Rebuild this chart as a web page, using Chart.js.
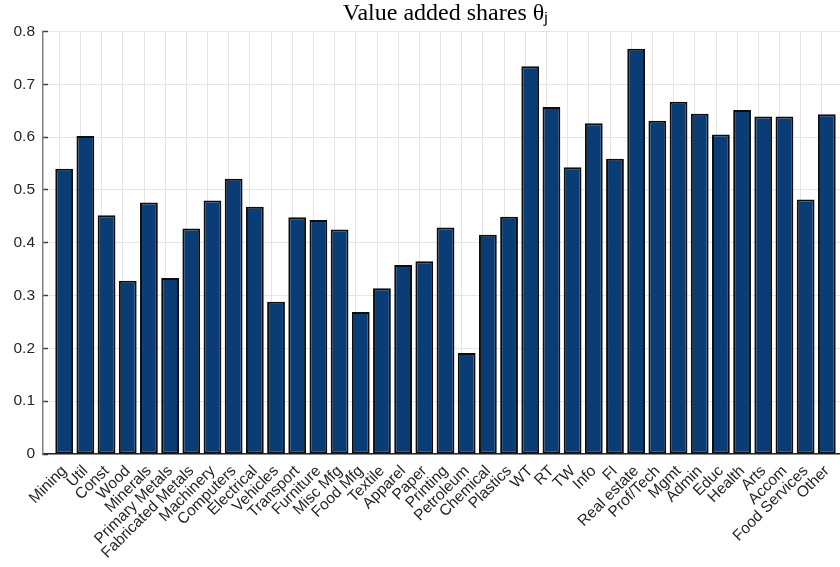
<!DOCTYPE html>
<html>
<head>
<meta charset="utf-8">
<script src="https://cdn.jsdelivr.net/npm/chart.js@4/dist/chart.umd.min.js"></script>
<style>
  html, body { margin: 0; padding: 0; background: #fff; overflow: hidden; }
  #wrap { width: 848px; height: 567px; }
</style>
</head>
<body>
<div id="wrap"><canvas id="c" width="848" height="567"></canvas></div>
<script>
const categories = ['Mining','Util','Const','Wood','Minerals','Primary Metals','Fabricated Metals','Machinery','Computers','Electrical','Vehicles','Transport','Furniture','Misc Mfg','Food Mfg','Textile','Apparel','Paper','Printing','Petroleum','Chemical','Plastics','WT','RT','TW','Info','FI','Real estate','Prof/Tech','Mgmt','Admin','Educ','Health','Arts','Accom','Food Services','Other'];
const valueAddedShares = [0.540,0.602,0.452,0.328,0.476,0.333,0.427,0.480,0.521,0.468,0.288,0.448,0.443,0.425,0.269,0.314,0.358,0.365,0.429,0.191,0.415,0.449,0.734,0.657,0.543,0.626,0.559,0.767,0.631,0.667,0.644,0.605,0.651,0.639,0.639,0.482,0.643];
const yTicks = [0, 0.1, 0.2, 0.3, 0.4, 0.5, 0.6, 0.7, 0.8];
const TICK_SHIFT = 0.23; // grid positions sit slightly left of bar centres in the original

const points = valueAddedShares.map((v, i) => ({ x: i + 1, y: v }));

new Chart(document.getElementById('c'), {
  type: 'bar',
  data: {
    datasets: [{
      data: points,
      backgroundColor: '#0a3c76',
      borderColor: '#0d0d0d',
      borderWidth: 2,
      borderSkipped: false,
      barPercentage: 0.84,
      categoryPercentage: 1.0
    }]
  },
  options: {
    responsive: false,
    animation: false,
    devicePixelRatio: 1,
    layout: { padding: { left: 0, right: 0, top: 0, bottom: 0 } },
    plugins: {
      legend: { display: false },
      tooltip: { enabled: false },
      title: {
        display: true,
        text: 'Value added shares θⱼ',
        fullSize: false,
        color: '#000',
        font: { family: 'Liberation Serif', size: 24, weight: 'normal', lineHeight: 1.1 },
        padding: { top: 1, bottom: 4 }
      }
    },
    scales: {
      x: {
        type: 'linear',
        offset: false,
        min: 0,
        max: categories.length + 1,
        afterBuildTicks: (scale) => {
          scale.ticks = categories.map((c, i) => ({ value: i + 1 - TICK_SHIFT }));
        },
        afterFit: (scale) => { scale.height = 113; },
        grid: { color: '#e5e5e5', lineWidth: 1, drawTicks: false, offset: false },
        border: { display: true, color: '#262626', width: 1.5 },
        ticks: {
          autoSkip: false,
          maxRotation: 45,
          minRotation: 45,
          padding: 8,
          labelOffset: 5,
          color: '#262626',
          font: { family: 'Liberation Sans', size: 15.5 },
          callback: (v, idx) => categories[idx]
        }
      },
      y: {
        min: 0,
        max: 0.8,
        afterBuildTicks: (scale) => {
          scale.ticks = yTicks.map(v => ({ value: v }));
        },
        afterFit: (scale) => { scale.width = 43; },
        grid: { color: '#e5e5e5', lineWidth: 1, tickLength: -5, tickColor: '#404040', tickWidth: 1.5 },
        border: { display: true, color: '#808080', width: 1.5 },
        ticks: {
          padding: 13,
          color: '#262626',
          font: { family: 'Liberation Sans', size: 15.5 },
          callback: (v) => (v === 0 ? '0' : v.toFixed(1))
        }
      }
    }
  }
});
</script>
</body>
</html>
